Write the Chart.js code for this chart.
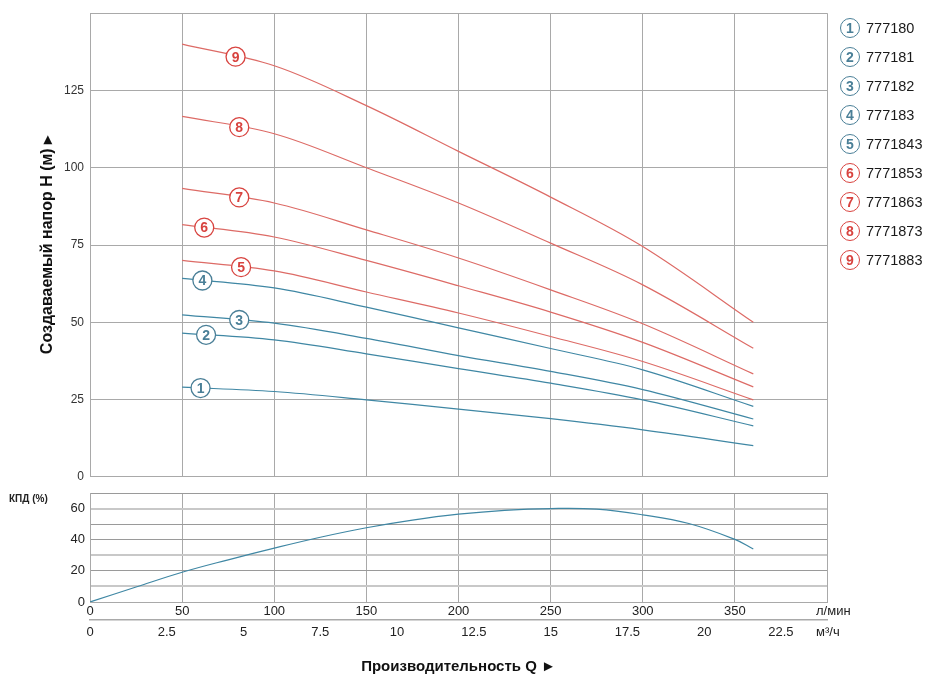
<!DOCTYPE html>
<html lang="ru">
<head>
<meta charset="utf-8">
<script src="https://cdn.jsdelivr.net/npm/chart.js@4.4.1/dist/chart.umd.min.js"></script>
<style>
  html, body { margin: 0; padding: 0; background: #fff; }
  #wrap { position: relative; width: 930px; height: 682px; font-family: "Liberation Sans", Arial, sans-serif; }
  #headChart { position: absolute; left: 0; top: 0; }
  #effChart { position: absolute; left: 0; top: 480px; }
  #legend { position: absolute; left: 840px; top: 13px; }
  .item { position: relative; height: 29.1px; display: flex; align-items: center; }
  .num { box-sizing: border-box; width: 20px; height: 20px; border: 1.3px solid; border-radius: 50%;
         font-weight: bold; font-size: 14px; line-height: 18px; text-align: center; background: #fff; }
  .name { margin-left: 6px; font-size: 14.5px; color: #1a1a1a; }
</style>
</head>
<body>
<div id="wrap">
  <canvas id="headChart" width="930" height="490"></canvas>
  <canvas id="effChart" width="930" height="202"></canvas>
  <div id="legend"></div>
</div>
<script>
// ================= DATA =================
const flowLpm = [50, 100, 150, 200, 250, 300, 360];

const head1 = [29.0, 27.6, 24.9, 21.9, 18.8, 15.2, 10.1];
const head2 = [46.5, 44.3, 39.8, 35.0, 30.3, 24.9, 16.5];
const head3 = [52.4, 49.7, 44.8, 39.2, 34.1, 28.2, 18.7];
const head4 = [64.2, 61.1, 54.9, 48.2, 41.5, 34.6, 22.8];
const head5 = [70.0, 66.6, 59.8, 53.0, 45.4, 37.3, 24.9];
const head6 = [81.6, 77.6, 70.0, 61.8, 53.3, 43.5, 29.1];
const head7 = [93.3, 88.6, 79.9, 70.8, 60.5, 49.5, 33.3];
const head8 = [116.6, 111.0, 100.0, 88.6, 75.6, 62.1, 41.6];
const head9 = [140.0, 133.0, 120.1, 105.3, 90.5, 74.5, 50.0];

const curveNums = ["1", "2", "3", "4", "5", "6", "7", "8", "9"];
const pumpModels = ["777180", "777181", "777182", "777183", "7771843", "7771853", "7771863", "7771873", "7771883"];
const labelFlow = [60, 63, 81, 61, 82, 62, 81, 81, 79];   // where the circled number sits, л/мин

const effFlow = [0, 25, 50, 75, 100, 125, 150, 175, 200, 225, 250, 275, 300, 325, 350, 360];
const effValue = [0, 9.6, 19.1, 27.1, 34.6, 41.6, 47.7, 52.6, 56.4, 58.9, 60.0, 59.6, 56.0, 50.4, 40.2, 34.0];

const headTicks = [0, 25, 50, 75, 100, 125];
const effTicks = [0, 20, 40, 60];
const effLightGrid = [10, 30, 60];

const BLUE = "#3f87a4";
const RED = "#dd6b66";
const BLUE_TXT = "#4a7f97";
const RED_TXT = "#d8433f";
const GRID = "#a9a9a9";
const FONT = "'Liberation Sans', Arial, sans-serif";
const NARROW = "'Liberation Sans Narrow', 'Liberation Sans', Arial, sans-serif";

const heads = [head1, head2, head3, head4, head5, head6, head7, head8, head9];
// curve 5 is drawn red on the plot, but its legend badge is blue
const lineRed = i => i >= 4;
const legendRed = i => i >= 5;

// ================= LEGEND =================
const legendDiv = document.getElementById("legend");
pumpModels.forEach((name, i) => {
  const row = document.createElement("div");
  row.className = "item";
  const c = legendRed(i) ? RED_TXT : BLUE_TXT;
  row.innerHTML = `<span class="num" style="color:${c};border-color:${c}">${curveNums[i]}</span><span class="name">${name}</span>`;
  legendDiv.appendChild(row);
});

// ================= CURVE LABELS =================
function valueAt(xs, ys, x) {
  for (let k = 0; k < xs.length - 1; k++) {
    if (x >= xs[k] && x <= xs[k + 1]) {
      const t = (x - xs[k]) / (xs[k + 1] - xs[k]);
      return ys[k] + t * (ys[k + 1] - ys[k]);
    }
  }
  return ys[ys.length - 1];
}

const curveLabels = {
  id: "curveLabels",
  afterDatasetsDraw(chart) {
    const { ctx, scales } = chart;
    ctx.save();
    heads.forEach((ys, i) => {
      const px = scales.x.getPixelForValue(labelFlow[i]);
      const py = scales.y.getPixelForValue(valueAt(flowLpm, ys, labelFlow[i]));
      const c = lineRed(i) ? RED_TXT : BLUE_TXT;
      ctx.beginPath();
      ctx.arc(px, py, 9.5, 0, Math.PI * 2);
      ctx.fillStyle = "#fff";
      ctx.fill();
      ctx.lineWidth = 1.3;
      ctx.strokeStyle = c;
      ctx.stroke();
      ctx.fillStyle = c;
      ctx.font = "bold 14px " + FONT;
      ctx.textAlign = "center";
      ctx.textBaseline = "middle";
      ctx.fillText(curveNums[i], px, py + 1);
    });
    ctx.restore();
  }
};

// ================= HEAD CHART =================
new Chart(document.getElementById("headChart").getContext("2d"), {
  type: "line",
  data: {
    datasets: heads.map((ys, i) => ({
      label: pumpModels[i],
      data: flowLpm.map((q, k) => ({ x: q, y: ys[k] })),
      borderColor: lineRed(i) ? RED : BLUE,
      borderWidth: 1.2,
      pointRadius: 0,
      fill: false,
      tension: 0.35
    }))
  },
  options: {
    responsive: false,
    animation: false,
    layout: { padding: { left: 0, right: 103, top: 13, bottom: 0 } },
    plugins: { legend: { display: false }, tooltip: { enabled: false } },
    scales: {
      x: {
        type: "linear", min: 0, max: 400,
        ticks: { display: false, stepSize: 50 },
        grid: { color: GRID, drawTicks: false },
        border: { color: GRID },
        afterFit: s => { s.height = 13; }
      },
      y: {
        min: 0, max: 150,
        ticks: {
          stepSize: 25, padding: 6, color: "#333", autoSkip: false,
          font: { family: FONT, size: 12 },
          callback: v => headTicks.includes(v) ? v : ""
        },
        grid: { color: GRID, drawTicks: false },
        border: { color: GRID },
        title: {
          display: true, text: "Создаваемый напор H (м) ▸", color: "#111",
          font: { family: FONT, size: 16, weight: "bold" },
          padding: { top: 38, bottom: 0 }
        },
        afterFit: s => { s.width = 90; }
      }
    }
  },
  plugins: [curveLabels]
});

// ================= EFFICIENCY CHART =================
const effText = {
  id: "effText",
  afterDraw(chart) {
    const { ctx, chartArea } = chart;
    ctx.save();
    ctx.fillStyle = "#222";
    ctx.textBaseline = "middle";
    ctx.font = "bold 10px " + NARROW;
    ctx.fillText("КПД (%)", 9, 19);
    ctx.font = "13px " + NARROW;
    ctx.fillText("л/мин", chartArea.right - 11, 131);
    ctx.fillText("м³/ч", chartArea.right - 11, 152);
    ctx.restore();
  }
};

new Chart(document.getElementById("effChart").getContext("2d"), {
  type: "line",
  data: {
    datasets: [{
      label: "КПД",
      data: effFlow.map((q, k) => ({ x: q, y: effValue[k] })),
      borderColor: BLUE,
      borderWidth: 1.2,
      pointRadius: 0,
      fill: false,
      tension: 0.4
    }]
  },
  options: {
    responsive: false,
    animation: false,
    layout: { padding: { left: 0, right: 103, top: 13, bottom: 0 } },
    plugins: { legend: { display: false }, tooltip: { enabled: false } },
    scales: {
      x: {
        type: "linear", min: 0, max: 400, weight: 0,
        ticks: {
          stepSize: 50, padding: 2, color: "#222", autoSkip: false,
          font: { family: NARROW, size: 13 },
          callback: v => v < 400 ? v : ""
        },
        grid: { color: GRID, drawTicks: false },
        border: { color: GRID },
        afterFit: s => { s.height = 18; }
      },
      x2: {
        type: "linear", position: "bottom", min: 0, max: 24, weight: 1,
        ticks: {
          stepSize: 2.5, padding: 5, color: "#222", autoSkip: false,
          font: { family: NARROW, size: 13 },
          callback: v => v < 24 ? String(v) : ""
        },
        grid: { display: false, drawTicks: false },
        border: { display: true, color: GRID, width: 1.5 },
        title: {
          display: true, text: "Производительность Q ►", color: "#111",
          font: { family: FONT, size: 15, weight: "bold" },
          padding: { top: 0, bottom: 6 }
        },
        afterFit: s => { s.height = 62; }
      },
      y: {
        min: 0, max: 70,
        ticks: {
          stepSize: 10, padding: 5, color: "#222", autoSkip: false,
          font: { family: NARROW, size: 13 },
          callback: v => effTicks.includes(v) ? v : ""
        },
        grid: {
          drawTicks: false,
          color: c => effLightGrid.includes(c.tick.value) ? "#c8c8c8" : "#9a9a9a",
          lineWidth: c => effLightGrid.includes(c.tick.value) ? 2 : 1
        },
        border: { color: GRID },
        afterFit: s => { s.width = 90; }
      }
    }
  },
  plugins: [effText]
});
</script>
</body>
</html>
